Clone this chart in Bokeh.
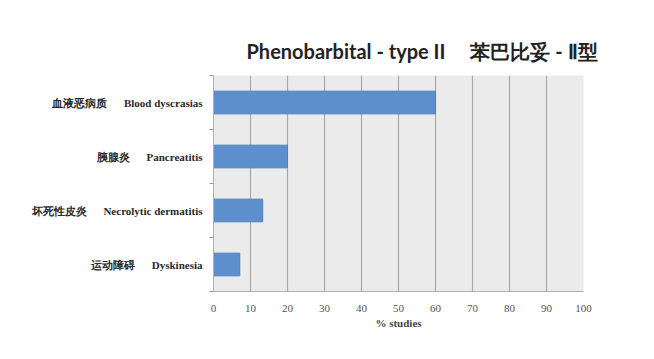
from bokeh.plotting import figure
from bokeh.models import Range1d, FixedTicker, ColumnDataSource, Title
from bokeh.embed import file_html
from bokeh.resources import INLINE

# ---- data ----
categories_en = ["Blood dyscrasias", "Pancreatitis", "Necrolytic dermatitis", "Dyskinesia"]
categories_zh = ["血液恶病质", "胰腺炎", "坏死性皮炎", "运动障碍"]
pct_studies = [60, 20, 13.3, 7.1]
x_ticks = [0, 10, 20, 30, 40, 50, 60, 70, 80, 90, 100]
title_en = "Phenobarbital - type II"
title_zh = "苯巴比妥 - Ⅱ型"
x_label = "% studies"

n = len(categories_en)
ypos = [n - i - 0.5 for i in range(n)]
gap = "\u2002\u2002\u2002"

p = figure(width=638, height=343, output_backend="svg", toolbar_location=None,
           x_range=Range1d(0, 100), y_range=Range1d(0, n),
           min_border_left=213, min_border_right=55, min_border_top=75, min_border_bottom=52)
p.background_fill_color = "#ebebeb"
p.border_fill_color = "white"
p.outline_line_color = None

src = ColumnDataSource(dict(y=ypos, right=pct_studies, en=categories_en))
p.hbar(y="y", left=0, right="right", height=0.42, source=src,
       fill_color="#5d8fcc", line_color="#4f80bd", line_width=1)

# x axis
p.xaxis.ticker = FixedTicker(ticks=x_ticks)
p.xgrid.ticker = FixedTicker(ticks=x_ticks)
p.xgrid.grid_line_color = "#a8a8a8"
p.xgrid.grid_line_width = 1.2
p.ygrid.visible = False
p.xaxis.axis_line_color = "#b0b0b0"
p.xaxis.major_tick_line_color = None
p.xaxis.minor_tick_line_color = None
p.xaxis.major_label_text_font = "Liberation Serif"
p.xaxis.major_label_text_font_size = "11px"
p.xaxis.major_label_text_color = "#555555"
p.xaxis.major_label_standoff = 7
p.xaxis.axis_label = x_label
p.xaxis.axis_label_text_font = "Liberation Serif"
p.xaxis.axis_label_text_font_style = "bold"
p.xaxis.axis_label_text_font_size = "11px"
p.xaxis.axis_label_text_color = "#444444"
p.xaxis.axis_label_standoff = 2

# y axis: labels at category centres, small ticks at boundaries
p.yaxis.ticker = FixedTicker(ticks=ypos, minor_ticks=list(range(n + 1)))
p.yaxis.major_label_overrides = {ypos[i]: categories_zh[i] + gap + categories_en[i] for i in range(n)}
p.yaxis.axis_line_color = "#b0b0b0"
p.yaxis.major_tick_line_color = None
p.yaxis.minor_tick_line_color = "#999999"
p.yaxis.minor_tick_out = 4
p.yaxis.minor_tick_in = 0
p.yaxis.major_label_standoff = 5
p.yaxis.major_label_text_font = "Liberation Serif"
p.yaxis.major_label_text_font_style = "bold"
p.yaxis.major_label_text_font_size = "11px"
p.yaxis.major_label_text_color = "#2a2a2a"

# title
p.title = Title(text=title_en + "\u2003\u2002" + title_zh, align="left", offset=33,
                standoff=26, text_font="Lato", text_font_style="bold",
                text_font_size="20px", text_color="#222222")

open("out.html", "w").write(file_html(p, INLINE))
